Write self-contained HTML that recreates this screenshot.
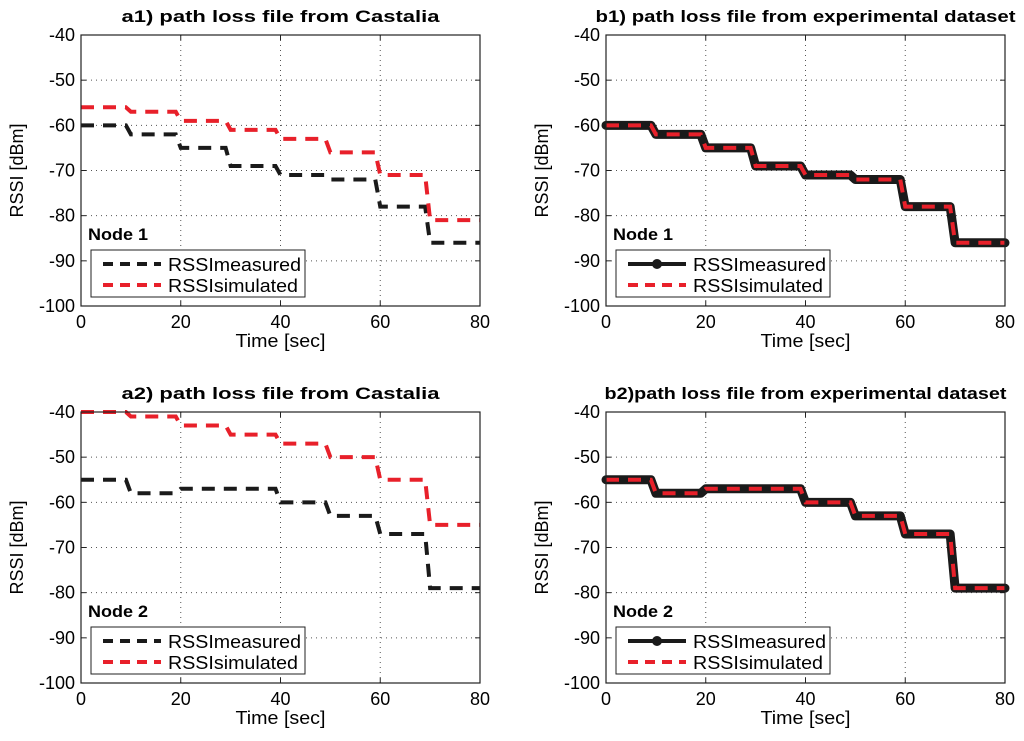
<!DOCTYPE html>
<html><head><meta charset="utf-8"><style>
body{margin:0;background:#fff;font-family:"Liberation Sans",sans-serif}
svg text{font-family:"Liberation Sans",sans-serif}
</style></head><body>
<svg id="c" width="1024" height="736" xmlns="http://www.w3.org/2000/svg"></svg>
<script>
const segTimes=[0,10,20,30,40,50,60,70];
const a1Measured=[-60,-62,-65,-69,-71,-72,-78,-86];
const a1Simulated=[-56,-57,-59,-61,-63,-66,-71,-81];
const a2Measured=[-55,-58,-57,-57,-60,-63,-67,-79];
const a2Simulated=[-40,-41,-43,-45,-47,-50,-55,-65];
const b1Measured=[-60,-62,-65,-69,-71,-72,-78,-86];
const b1Simulated=[-60,-62,-65,-69,-71,-72,-78,-86];
const b2Measured=[-55,-58,-57,-57,-60,-63,-67,-79];
const b2Simulated=[-55,-58,-57,-57,-60,-63,-67,-79];
const xTicks=[0,20,40,60,80];
const yTicks=[-40,-50,-60,-70,-80,-90,-100];
const NS="http://www.w3.org/2000/svg";
const svg=document.getElementById('c');
function mk(tag,attrs,parent){const e=document.createElementNS(NS,tag);for(const k in attrs)e.setAttribute(k,attrs[k]);(parent||svg).appendChild(e);return e;}
function panel(id,L,R,T,B,title,titleLen,node,meas,sim,expStyle){
  const g=mk('g',{});
  
  
  const xs=v=>L+(v-0)/80*(R-L);
  const ys=v=>T+(-40-v)/60*(B-T);
  mk('rect',{x:L,y:T,width:R-L,height:B-T,fill:'#fff'},g);
  for(const t of xTicks){ if(t>0&&t<80)mk('line',{x1:xs(t),x2:xs(t),y1:T,y2:B,stroke:'#555','stroke-dasharray':'1,4','stroke-width':1},g);
    const tx=mk('text',{x:xs(t),y:B+22,'text-anchor':'middle','font-size':18},g);tx.textContent=t;
    
    mk('line',{x1:xs(t),x2:xs(t),y1:B,y2:B-5,stroke:'#222'},g);mk('line',{x1:xs(t),x2:xs(t),y1:T,y2:T+5,stroke:'#222'},g);}
  for(const t of yTicks){ if(t>-100&&t<-40)mk('line',{x1:L,x2:R,y1:ys(t),y2:ys(t),stroke:'#555','stroke-dasharray':'1,4','stroke-width':1},g);
    const tx=mk('text',{x:L-6,y:ys(t)+6,'text-anchor':'end','font-size':18},g);tx.textContent=t;
    
    mk('line',{x1:L,x2:L+5,y1:ys(t),y2:ys(t),stroke:'#222'},g);mk('line',{x1:R,x2:R-5,y1:ys(t),y2:ys(t),stroke:'#222'},g);}
  const tt=mk('text',{x:(L+R)/2-titleLen/2,y:T-13,'font-size':17,'font-weight':'bold',textLength:titleLen,lengthAdjust:'spacingAndGlyphs'},g);tt.textContent=title;
  
  const xl=mk('text',{x:(L+R)/2-45,y:B+41,'font-size':18,textLength:90,lengthAdjust:'spacingAndGlyphs'},g);xl.textContent='Time [sec]';
  
  const yl=mk('text',{x:0,y:0,'text-anchor':'middle','font-size':18,transform:`translate(${L-58},${(T+B)/2}) rotate(-90)`},g);yl.textContent='RSSI [dBm]';
  
  function path(vals){let d='';vals.forEach((v,i)=>{const x0=segTimes[i];const x1=i<vals.length-1?segTimes[i+1]-1:80;
    d+=(i===0?'M':'L')+xs(x0)+','+ys(v)+' L'+xs(x1)+','+ys(v)+' ';});return d;}
  if(expStyle){
    const m=mk('path',{d:path(meas),fill:'none',stroke:'#1a1a1a','stroke-width':9,'stroke-linejoin':'round','stroke-linecap':'round'},g);
    
    const s=mk('path',{d:path(sim),fill:'none',stroke:'#e8202a','stroke-width':4,'stroke-dasharray':'13,9'},g);
    
  } else {
    const m=mk('path',{d:path(meas),fill:'none',stroke:'#1a1a1a','stroke-width':4,'stroke-dasharray':'13,9'},g);
    
    const s=mk('path',{d:path(sim),fill:'none',stroke:'#e8202a','stroke-width':4,'stroke-dasharray':'13,9'},g);
    
  }
  mk('rect',{x:L,y:T,width:R-L,height:B-T,fill:'none',stroke:'#222','stroke-width':1.2},g);
  const nd=mk('text',{x:L+7,y:B-66,'font-size':17,'font-weight':'bold',textLength:60,lengthAdjust:'spacingAndGlyphs'},g);nd.textContent=node;
  
  const lg=mk('g',{},g);
  
  const lx=L+10,ly=B-56;
  mk('rect',{x:lx,y:ly,width:214,height:47,fill:'#fff',stroke:'#222','stroke-width':1},lg);
  if(expStyle){mk('line',{x1:lx+12,x2:lx+70,y1:ly+14,y2:ly+14,stroke:'#1a1a1a','stroke-width':4},lg);mk('circle',{cx:lx+41,cy:ly+14,r:5,fill:'#1a1a1a'},lg);}
  else mk('line',{x1:lx+12,x2:lx+70,y1:ly+14,y2:ly+14,stroke:'#1a1a1a','stroke-width':4,'stroke-dasharray':'10,7'},lg);
  mk('line',{x1:lx+12,x2:lx+70,y1:ly+35,y2:ly+35,stroke:'#e8202a','stroke-width':4,'stroke-dasharray':'10,7'},lg);
  const t1=mk('text',{x:lx+77,y:ly+21,'font-size':18,textLength:133,lengthAdjust:'spacingAndGlyphs'},lg);t1.textContent='RSSImeasured';
  
  const t2=mk('text',{x:lx+77,y:ly+42,'font-size':18,textLength:130,lengthAdjust:'spacingAndGlyphs'},lg);t2.textContent='RSSIsimulated';
  
}
panel('a1',81,480,35,306,'a1) path loss file from Castalia',318,'Node 1',a1Measured,a1Simulated,false);
panel('b1',606,1005,35,306,'b1) path loss  file from experimental dataset',420,'Node 1',b1Measured,b1Simulated,true);
panel('a2',81,480,412,683,'a2) path loss file from Castalia',318,'Node 2',a2Measured,a2Simulated,false);
panel('b2',606,1005,412,683,'b2)path loss file from experimental dataset',402,'Node 2',b2Measured,b2Simulated,true);
</script>
</body></html>
